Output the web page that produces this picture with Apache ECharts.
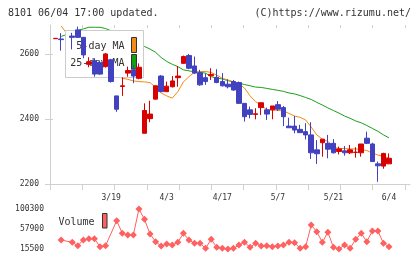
<!DOCTYPE html>
<html>
<head>
<meta charset="utf-8">
<script src="https://cdn.jsdelivr.net/npm/echarts@6/dist/echarts.min.js"></script>
<style>
html, body { margin: 0; padding: 0; background: #fff; }
#chart { width: 420px; height: 259px; }
</style>
</head>
<body>
<div id="chart"></div>
<script>
// trading days shown, one per candle
var dates = ['3/5', '3/6', '3/7', '3/8', '3/11', '3/12', '3/13', '3/14', '3/15', '3/18',
  '3/19', '3/21', '3/22', '3/25', '3/26', '3/27', '3/28', '3/29', '4/1', '4/2',
  '4/3', '4/4', '4/5', '4/8', '4/9', '4/10', '4/11', '4/12', '4/15', '4/16',
  '4/17', '4/18', '4/19', '4/22', '4/23', '4/24', '4/25', '4/26', '5/1', '5/2',
  '5/7', '5/8', '5/9', '5/10', '5/13', '5/14', '5/15', '5/16', '5/17', '5/20',
  '5/21', '5/22', '5/23', '5/24', '5/27', '5/28', '5/29', '5/30', '5/31', '6/3',
  '6/4']

var opens = [2647, 2646, null, 2655, 2674, 2651, 2568, 2579, 2573, 2561,
  2582, 2471, 2500, 2541, 2551, 2525, 2356, 2401, 2461, 2532,
  2484, 2499, 2527, 2571, 2595, 2563, 2542, 2527, 2533, 2528,
  2515, 2507, 2515, 2512, 2448, 2428, 2414, 2435, 2428, 2428,
  2444, 2435, 2378, 2378, 2368, 2361, 2351, 2305, 2327, 2325,
  2325, 2300, 2302, 2296, 2297, 2296, 2341, 2323, 2262, 2255,
  2262]
var closes = [2648, 2644, null, 2651, 2651, 2597, 2576, 2538, 2538, 2600,
  2515, 2430, 2502, 2549, 2532, 2559, 2426, 2415, 2502, 2484,
  2501, 2517, 2532, 2592, 2556, 2541, 2505, 2515, 2537, 2512,
  2502, 2499, 2489, 2448, 2407, 2414, 2416, 2450, 2415, 2440,
  2430, 2407, 2373, 2366, 2358, 2351, 2296, 2293, 2338, 2307,
  2296, 2308, 2296, 2305, 2298, 2323, 2325, 2269, 2256, 2294,
  2279]
var lows = [2647, 2610, null, 2614, 2650, 2587, 2559, 2530, 2536, 2558,
  2512, 2422, 2471, 2530, 2510, 2522, 2356, 2390, 2460, 2482,
  2484, 2497, 2499, 2570, 2553, 2538, 2502, 2505, 2520, 2510,
  2500, 2494, 2487, 2446, 2392, 2402, 2399, 2412, 2397, 2399,
  2425, 2378, 2373, 2356, 2358, 2337, 2277, 2262, 2284, 2279,
  2294, 2291, 2287, 2292, 2281, 2284, 2323, 2269, 2207, 2247,
  2262]
var highs = [2648, 2664, null, 2665, 2684, 2651, 2590, 2587, 2580, 2603,
  2585, 2471, 2528, 2561, 2566, 2571, 2448, 2456, 2503, 2535,
  2515, 2532, 2563, 2595, 2600, 2592, 2551, 2540, 2556, 2553,
  2541, 2522, 2520, 2515, 2448, 2438, 2433, 2450, 2435, 2440,
  2455, 2440, 2404, 2409, 2382, 2387, 2390, 2335, 2338, 2351,
  2338, 2315, 2317, 2320, 2313, 2323, 2361, 2327, 2269, 2296,
  2294]

var ma5 = [null, 2686, null, 2641, 2630, 2615, 2600, 2585, 2572, 2565,
  2555, 2535, 2525, 2522, 2517, 2515, 2514, 2512, 2497, 2480,
  2471, 2464, 2484, 2514, 2530, 2544, 2546, 2546, 2543, 2535,
  2525, 2520, 2514, 2508, 2495, 2471, 2453, 2443, 2428, 2428,
  2426, 2425, 2417, 2409, 2405, 2397, 2375, 2351, 2338, 2331,
  2314, 2309, 2309, 2308, 2308, 2306, 2303, 2295, 2289, 2285,
  2280]
var ma25 = [null, 2654, null, 2665, 2672, 2677, 2682, 2682, 2682, 2678,
  2671, 2663, 2655, 2648, 2640, 2632, 2623, 2615, 2605, 2589,
  2577, 2568, 2561, 2551, 2548, 2545, 2543, 2541, 2530, 2526,
  2523, 2518, 2514, 2510, 2506, 2502, 2498, 2497, 2494, 2491,
  2488, 2485, 2480, 2477, 2472, 2466, 2460, 2451, 2443, 2434,
  2426, 2418, 2409, 2402, 2394, 2388, 2380, 2371, 2362, 2351,
  2342]

var volumes = [null, 34600, null, 29700, 22500, 34600, 37000, 37000, 20400, 22500,
  null, 75500, 48800, 45200, 45200, 100300, 78400, 47300, 31000, 21900,
  26100, 24000, 29700, 48800, 34600, 27600, 27600, 17000, 36100, 19100,
  17000, 15500, 17000, 24000, 29700, 19100, 27600, 21900, 22500, 20400,
  21900, 24000, 29700, 28900, 17000, 20400, 66400, 52200, 29700, 50900,
  19100, 15500, 24000, 17000, 36100, 48800, 31000, 53700, 53700, 27600,
  20400]

var priceTicks = [2200, 2400, 2600]
var volumeTicks = [15500, 57900, 100300]
var dateTicks = [0, 1, 2, 3, 4, 5, 6, 7, 8, 9, 10, 11]

// one empty slot before the first day, three after the last
var cats = [''].concat(dates, ['', '', ''])
var pad = function (arr) { return [null].concat(arr, [null, null, null]) }

var candles = ['-']
for (var i = 0; i < dates.length; i++) {
  if (opens[i] == null) candles.push(['-', '-', '-', '-'])
  else candles.push([opens[i], closes[i], lows[i], highs[i]])
}
candles.push('-', '-', '-')

var mono = '"DejaVu Sans Mono", monospace'
var gridLine = '#d0d0d0'
var txt = '#333'
var plain = function (v) { return String(v) }

var chart = echarts.init(document.getElementById('chart'), null, {renderer: 'canvas'})
chart.setOption({
  animation: false,
  backgroundColor: '#fff',
  grid: [
    {left: 50, top: 25, width: 355.7, height: 159, outerBoundsMode: 'none'},
    {left: 50, top: 25, width: 360, height: 159, outerBoundsMode: 'none'},
    {left: 50, top: 209, width: 355.7, height: 40, outerBoundsMode: 'none'}
  ],
  xAxis: [
    {
      type: 'category', gridIndex: 0, data: cats, boundaryGap: false,
      axisLine: {show: false}, axisTick: {show: false}, splitLine: {show: false},
      axisLabel: {
        interval: function (idx) { return idx > 1 && (idx - 1) % 10 === 0 },
        margin: 10, color: txt, fontFamily: mono, fontSize: 8
      }
    },
    {
      type: 'value', gridIndex: 1, min: 0, max: 11.155, interval: 1,
      axisLine: {lineStyle: {color: gridLine}},
      axisTick: {length: 6, customValues: dateTicks, lineStyle: {color: gridLine}},
      axisLabel: {show: false}, splitLine: {show: false}
    },
    {
      type: 'value', gridIndex: 1, min: 0, max: 11.155, interval: 1,
      axisLine: {show: false},
      axisTick: {inside: true, length: 3, customValues: dateTicks, lineStyle: {color: gridLine}},
      axisLabel: {show: false}, splitLine: {show: false}
    },
    {
      type: 'category', gridIndex: 2, data: cats, boundaryGap: false, show: false
    }
  ],
  yAxis: [
    {
      type: 'value', gridIndex: 0, min: 2200, max: 2689, interval: 200,
      position: 'left',
      axisLine: {show: true, lineStyle: {color: gridLine}},
      axisTick: {show: true, length: 5, customValues: priceTicks, lineStyle: {color: gridLine}},
      axisLabel: {customValues: priceTicks, formatter: plain, margin: 11, color: txt, fontFamily: mono, fontSize: 8},
      splitLine: {show: false}
    },
    {
      type: 'value', gridIndex: 0, min: 2200, max: 2689, interval: 200,
      position: 'left',
      axisLine: {show: false},
      axisTick: {show: true, inside: true, length: 3, customValues: priceTicks, lineStyle: {color: gridLine}},
      axisLabel: {show: false}, splitLine: {show: false}
    },
    {type: 'value', gridIndex: 1, min: 0, max: 1, show: false},
    {
      type: 'value', gridIndex: 2, min: 15500, max: 100300, interval: 42400,
      axisLine: {show: false}, axisTick: {show: false},
      axisLabel: {customValues: volumeTicks, formatter: plain, margin: 6, color: txt, fontFamily: mono, fontSize: 8},
      splitLine: {show: false}
    }
  ],
  series: [
    {
      name: '25-day MA', type: 'line', xAxisIndex: 0, yAxisIndex: 0, z: 1,
      data: pad(ma25), symbol: 'none', connectNulls: true,
      lineStyle: {color: '#1aa01a', width: 1}
    },
    {
      name: '5-day MA', type: 'line', xAxisIndex: 0, yAxisIndex: 0, z: 1,
      data: pad(ma5), symbol: 'none', connectNulls: true,
      lineStyle: {color: '#f08c10', width: 1}
    },
    {
      name: 'price', type: 'candlestick', xAxisIndex: 0, yAxisIndex: 0, z: 5,
      data: candles, barWidth: 5,
      itemStyle: {
        color: '#d80000', color0: '#4242c0',
        borderColor: '#d80000', borderColor0: '#4242c0', borderWidth: 1
      }
    },
    {
      name: 'Volume', type: 'line', xAxisIndex: 3, yAxisIndex: 3,
      data: pad(volumes), connectNulls: true,
      symbol: 'diamond', symbolSize: 7, showAllSymbol: true,
      lineStyle: {color: '#ff6060', width: 1},
      itemStyle: {color: '#ff6060'}
    }
  ],
  graphic: [
    {type: 'text', z: 10, style: {x: 8, y: 13, text: '8101 06/04 17:00 updated.', font: '10px ' + mono, fill: txt, textVerticalAlign: 'middle', verticalAlign: 'middle'}},
    {type: 'text', z: 10, style: {x: 411, y: 13, text: '(C)https://www.rizumu.net/', font: '10px ' + mono, fill: txt, textAlign: 'right', align: 'right', textVerticalAlign: 'middle', verticalAlign: 'middle'}},
    // MA legend box sits over the lines but under the candles
    {type: 'rect', z: 3, shape: {x: 65.5, y: 30.5, width: 78, height: 47}, style: {fill: '#fff', stroke: '#cccccc', lineWidth: 1}},
    {type: 'text', z: 3, style: {x: 124.5, y: 46, text: '5-day MA', font: '10px ' + mono, fill: txt, textAlign: 'right', align: 'right', textVerticalAlign: 'middle', verticalAlign: 'middle'}},
    {type: 'text', z: 3, style: {x: 124.5, y: 63, text: '25-day MA', font: '10px ' + mono, fill: txt, textAlign: 'right', align: 'right', textVerticalAlign: 'middle', verticalAlign: 'middle'}},
    {type: 'rect', z: 3, shape: {x: 131.5, y: 37.5, width: 5, height: 15}, style: {fill: '#f08c18', stroke: '#333', lineWidth: 1}},
    {type: 'rect', z: 3, shape: {x: 131.5, y: 54.5, width: 5, height: 14.5}, style: {fill: '#10a010', stroke: '#333', lineWidth: 1}},
    {type: 'text', z: 3, style: {x: 94.5, y: 222, text: 'Volume', font: '10px ' + mono, fill: txt, textAlign: 'right', align: 'right', textVerticalAlign: 'middle', verticalAlign: 'middle'}},
    {type: 'rect', z: 3, shape: {x: 102.5, y: 213.5, width: 4.5, height: 14.5}, style: {fill: '#ff6060', stroke: '#333', lineWidth: 1}}
  ]
})
</script>
</body>
</html>
